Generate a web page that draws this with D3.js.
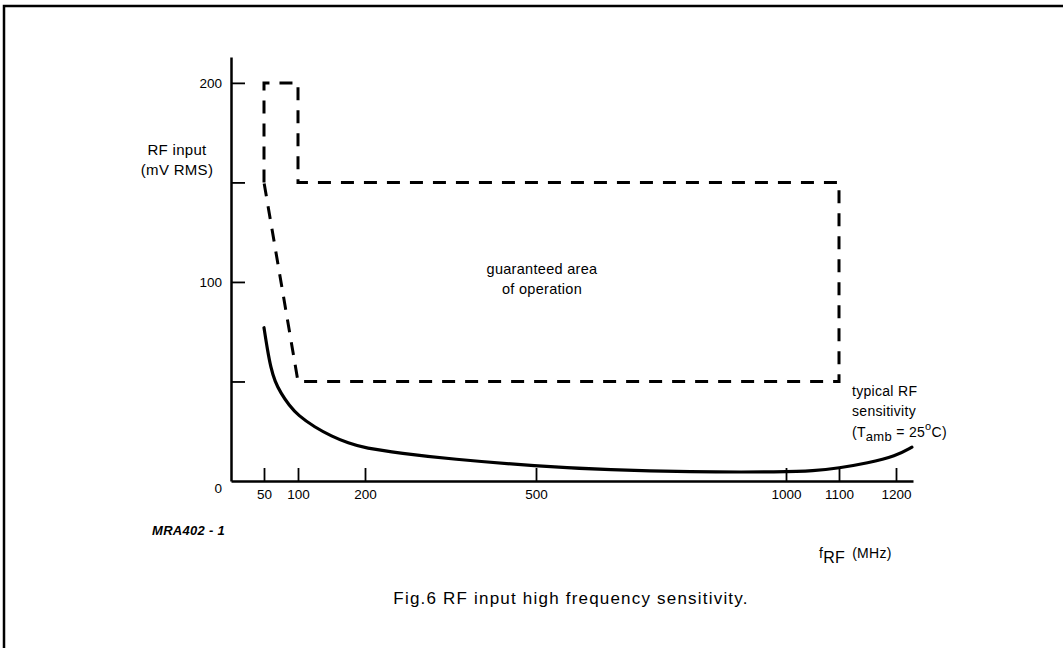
<!DOCTYPE html>
<html>
<head>
<meta charset="utf-8">
<script src="https://cdn.jsdelivr.net/npm/d3@7"></script>
<style>
  body { margin: 0; background: #fff; }
  svg text { font-family: "Liberation Sans", Arial, sans-serif; fill: #000; }
</style>
</head>
<body>
<div id="chart"></div>
<script>
// frequency axis is drawn piecewise (not to scale), as in the datasheet
const freqBreaks = [0, 50, 100, 200, 500, 1000, 1100, 1200, 1232];
const freqTicks = [50, 100, 200, 500, 1000, 1100, 1200];
const rfTicks = [0, 50, 100, 150, 200];
const rfLabels = [0, 100, 200];

// guaranteed area of operation (MHz, mV RMS)
const guaranteedFreq = [50, 50, 100, 100, 1100, 1100, 100, 50];
const guaranteedRf   = [150, 200, 200, 150, 150, 50, 50, 150];

// typical RF sensitivity curve
const typFreq = [50, 55, 60, 66, 75, 87, 100, 125, 150, 175, 200, 262, 350, 500, 650, 800, 1000, 1050, 1100, 1150, 1200, 1230];
const typRf   = [77, 66, 57, 50, 44, 38, 33, 27, 22.5, 19, 16.5, 14, 11, 7.5, 5.5, 4.5, 4.5, 5, 6.5, 9, 12.5, 17];

const width = 1063, height = 648;
const font = '"Liberation Sans", Arial, sans-serif';

const svg = d3.select('#chart').append('svg')
    .attr('width', width)
    .attr('height', height);

// page frame (top and left edges only)
svg.append('path')
    .attr('d', 'M4,648 V6 H1063')
    .attr('fill', 'none')
    .attr('stroke', '#000')
    .attr('stroke-width', 2.5);

const x = d3.scaleLinear()
    .domain(freqBreaks)
    .range([231, 264, 298, 365, 536, 786, 839, 896, 913]);

const y = d3.scaleLinear()
    .domain([0, 213])
    .range([481, 57]);

// axes, ticks pointing inward
const axisX = svg.append('g')
    .attr('transform', `translate(0,${y(0)})`)
    .call(d3.axisBottom(x)
        .tickValues(freqTicks)
        .tickFormat(d3.format('d'))
        .tickSizeInner(-13)
        .tickSizeOuter(0)
        .tickPadding(8));

const axisY = svg.append('g')
    .attr('transform', `translate(${x(0)},0)`)
    .call(d3.axisLeft(y)
        .tickValues(rfTicks)
        .tickSizeInner(-14)
        .tickSizeOuter(0)
        .tickPadding(9)
        .tickFormat(d => rfLabels.includes(d) ? d : ''));

[axisX, axisY].forEach(a => {
    a.select('.domain').attr('stroke-width', 2.5);
    a.selectAll('.tick line').attr('stroke-width', 1.8);
    a.selectAll('.tick text')
        .style('font-family', font)
        .style('font-size', '13.5px');
});
axisY.selectAll('.tick').filter(d => d === 0).select('line').remove();
axisY.selectAll('.tick').filter(d => d === 0).select('text').attr('dy', '0.85em');

// guaranteed area (dashed)
const area = d3.zip(guaranteedFreq, guaranteedRf);
svg.append('path')
    .datum(area)
    .attr('fill', 'none')
    .attr('stroke', '#000')
    .attr('stroke-width', 3)
    .attr('stroke-dasharray', '13,10')
    .attr('d', d3.line().x(d => x(d[0])).y(d => y(d[1])));

// typical sensitivity (solid)
const typ = d3.zip(typFreq, typRf);
svg.append('path')
    .datum(typ)
    .attr('fill', 'none')
    .attr('stroke', '#000')
    .attr('stroke-width', 3.2)
    .attr('stroke-linecap', 'round')
    .attr('d', d3.line().curve(d3.curveBasis).x(d => x(d[0])).y(d => y(d[1])));

// texts
const txt = (tx, ty, s, anchor = 'start', size = 14) => svg.append('text')
    .attr('x', tx).attr('y', ty)
    .attr('text-anchor', anchor)
    .style('font-size', size + 'px')
    .style('letter-spacing', '0.3px')
    .text(s);

txt(177, 155, 'RF input', 'middle', 15);
txt(177, 175, '(mV RMS)', 'middle', 15);

txt(542, 274, 'guaranteed area', 'middle', 14.5);
txt(542, 294, 'of operation', 'middle', 14.5);

txt(852, 396, 'typical RF');
txt(852, 416, 'sensitivity');
const t = txt(852, 437, '(T');
t.append('tspan').attr('dy', 4).style('font-size', '13px').text('amb');
t.append('tspan').attr('dy', -4).text(' = 25');
t.append('tspan').attr('dy', -7).style('font-size', '11px').text('o');
t.append('tspan').attr('dy', 7).text('C)');

const f = txt(819, 558, 'f', 'start', 14);
f.append('tspan').attr('dy', 5).style('font-size', '16px').text('RF');
f.append('tspan').attr('dy', -5).attr('dx', 7).text('(MHz)');

txt(152, 535, 'MRA402 - 1', 'start', 13)
    .style('font-style', 'italic')
    .style('font-weight', 'bold');

txt(571, 604, 'Fig.6  RF input high frequency sensitivity.', 'middle', 17)
    .style('letter-spacing', '1.2px');
</script>
</body>
</html>
